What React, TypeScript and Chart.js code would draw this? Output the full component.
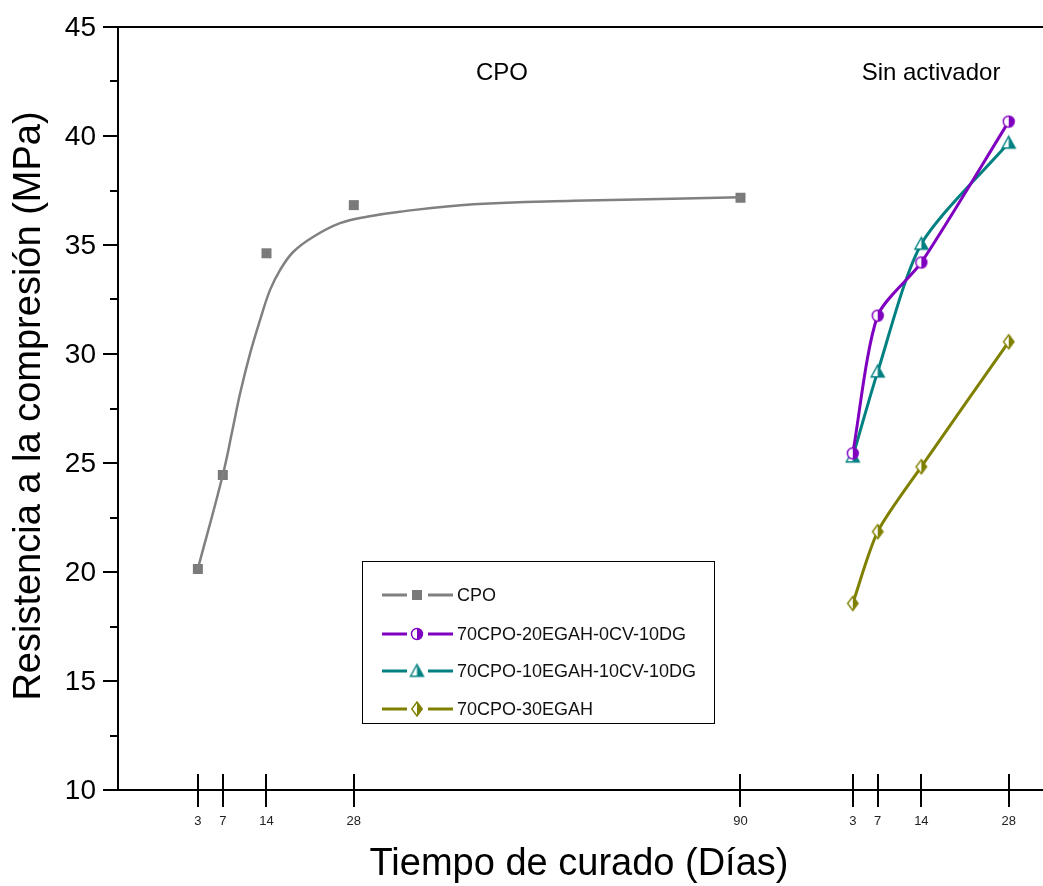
import React, { useEffect, useRef } from "react";
import { Chart, registerables } from "chart.js";

Chart.register(...registerables);

// ---- data ----
const cpoDays = [3, 7, 14, 28, 90];
const cpoStrength = [20.14, 24.45, 34.62, 36.83, 37.17];

// fitted curve for CPO
const cpoFitDays = [3, 7, 8.55, 9.78, 11.38, 12.98, 14.58, 16.18, 18.32, 21.53, 25.8, 30.1, 35.4, 47.2, 63.2, 79.2, 90];
const cpoFitStrength = [20.14, 24.45, 26.51, 28.2, 30.03, 31.56, 32.94, 33.85, 34.69, 35.38, 36.0, 36.3, 36.53, 36.87, 37.03, 37.12, 37.19];

const actDays = [3, 7, 14, 28];
const groupOffset = 105; // second block of the axis ("Sin activador")
const s20EGAH = [25.44, 31.76, 34.2, 40.66];
const s10EGAH = [25.29, 29.19, 35.05, 39.69];
const s30EGAH = [18.56, 21.85, 24.83, 30.56];

const seriesNames = ["CPO", "70CPO-20EGAH-0CV-10DG", "70CPO-10EGAH-10CV-10DG", "70CPO-30EGAH"];
const yTicks = [10, 15, 20, 25, 30, 35, 40, 45];
const yMinorTicks = [12.5, 17.5, 22.5, 27.5, 32.5, 37.5, 42.5];
const xTickValues = [...cpoDays, ...actDays.map((d) => d + groupOffset)];
const xTickLabels = [...cpoDays, ...actDays].map(String);

const GRAY = "#808080";
const PURPLE = "#8000C0";
const TEAL = "#008080";
const OLIVE = "#808000";
const FONT = "Arial, 'Liberation Sans', sans-serif";

type Shape = "square" | "circle" | "triangle" | "diamond";

function makeMarker(shape: Shape, color: string, size: number): HTMLCanvasElement {
  const c = document.createElement("canvas");
  const pad = 2;
  c.width = size + pad * 2;
  c.height = size + pad * 2;
  const ctx = c.getContext("2d")!;
  const cx = c.width / 2;
  const cy = c.height / 2;
  const r = size / 2;
  const path = () => {
    ctx.beginPath();
    if (shape === "square") {
      ctx.rect(cx - r, cy - r, size, size);
    } else if (shape === "circle") {
      ctx.arc(cx, cy, r - 0.5, 0, Math.PI * 2);
    } else if (shape === "triangle") {
      ctx.moveTo(cx, cy - r);
      ctx.lineTo(cx + r, cy + r * 0.8);
      ctx.lineTo(cx - r, cy + r * 0.8);
      ctx.closePath();
    } else {
      ctx.moveTo(cx, cy - r);
      ctx.lineTo(cx + r * 0.75, cy);
      ctx.lineTo(cx, cy + r);
      ctx.lineTo(cx - r * 0.75, cy);
      ctx.closePath();
    }
  };
  if (shape === "square") {
    path();
    ctx.fillStyle = color;
    ctx.fill();
    return c;
  }
  path();
  ctx.fillStyle = "#ffffff";
  ctx.fill();
  ctx.save();
  ctx.beginPath();
  ctx.rect(cx, 0, c.width, c.height);
  ctx.clip();
  path();
  ctx.fillStyle = color;
  ctx.fill();
  ctx.restore();
  path();
  ctx.lineWidth = 1.4;
  ctx.strokeStyle = color;
  ctx.stroke();
  return c;
}

export default function App() {
  const ref = useRef<HTMLCanvasElement | null>(null);

  useEffect(() => {
    if (!ref.current) return;
    const mSquare = makeMarker("square", "#7a7a7a", 10);
    const mCircle = makeMarker("circle", PURPLE, 12);
    const mTri = makeMarker("triangle", TEAL, 13);
    const mDia = makeMarker("diamond", OLIVE, 14);
    const markers = [mSquare, mCircle, mTri, mDia];
    const colors = [GRAY, PURPLE, TEAL, OLIVE];

    const decor = {
      id: "decor",
      afterDraw(chart: any) {
        const ctx = chart.ctx;
        const { left, right, top, bottom } = chart.chartArea;
        const xs = chart.scales.x;
        const ys = chart.scales.y;
        ctx.save();
        ctx.strokeStyle = "#000";
        ctx.lineWidth = 2;
        // axis lines and frame top
        ctx.beginPath();
        ctx.moveTo(left, top);
        ctx.lineTo(left, bottom);
        ctx.moveTo(left - 15, bottom);
        ctx.lineTo(right, bottom);
        ctx.moveTo(left - 15, top);
        ctx.lineTo(right, top);
        // y ticks
        yTicks.forEach((v) => {
          const y = Math.round(ys.getPixelForValue(v));
          ctx.moveTo(left - 15, y);
          ctx.lineTo(left, y);
        });
        yMinorTicks.forEach((v) => {
          const y = Math.round(ys.getPixelForValue(v));
          ctx.moveTo(left - 8, y);
          ctx.lineTo(left, y);
        });
        // x ticks crossing the axis
        xTickValues.forEach((v) => {
          const x = Math.round(xs.getPixelForValue(v));
          ctx.moveTo(x, bottom - 16);
          ctx.lineTo(x, bottom + 17);
        });
        ctx.stroke();

        // tick labels
        ctx.fillStyle = "#000";
        ctx.textAlign = "right";
        ctx.textBaseline = "middle";
        ctx.font = `28px ${FONT}`;
        yTicks.forEach((v) => {
          ctx.fillText(String(v), left - 22, ys.getPixelForValue(v) + 1);
        });
        ctx.textAlign = "center";
        ctx.fillStyle = "#222";
        ctx.font = `13px ${FONT}`;
        xTickValues.forEach((v, i) => {
          ctx.fillText(xTickLabels[i], xs.getPixelForValue(v), bottom + 31);
        });

        // titles
        ctx.fillStyle = "#000";
        ctx.font = `38px ${FONT}`;
        ctx.fillText("Tiempo de curado (Días)", 579, 865);
        ctx.save();
        ctx.translate(30, 406);
        ctx.rotate(-Math.PI / 2);
        ctx.fillText("Resistencia a la compresión (MPa)", 0, 0);
        ctx.restore();
        ctx.font = `24px ${FONT}`;
        ctx.fillText("CPO", 502, 73);
        ctx.fillText("Sin activador", 931, 73);

        // legend
        const bx = 362.5, by = 561.5, bw = 352, bh = 162;
        ctx.lineWidth = 1;
        ctx.strokeStyle = "#000";
        ctx.strokeRect(bx, by, bw, bh);
        const rows = [595, 634, 671, 709];
        ctx.textAlign = "left";
        ctx.font = `18px ${FONT}`;
        rows.forEach((ry, i) => {
          ctx.strokeStyle = colors[i];
          ctx.lineWidth = 3;
          ctx.beginPath();
          ctx.moveTo(382, ry);
          ctx.lineTo(407, ry);
          ctx.moveTo(428, ry);
          ctx.lineTo(453, ry);
          ctx.stroke();
          const m = markers[i];
          ctx.drawImage(m, 417 - m.width / 2, ry - m.height / 2);
          ctx.fillStyle = "#111";
          ctx.fillText(seriesNames[i], 457, ry + 1);
        });
        ctx.restore();
      },
    };

    const chart = new Chart(ref.current, {
      type: "line",
      data: {
        datasets: [
          {
            label: "CPO fit",
            data: cpoFitDays.map((d, i) => ({ x: d, y: cpoFitStrength[i] })),
            borderColor: GRAY,
            borderWidth: 2.5,
            pointRadius: 0,
            tension: 0.4,
            fill: false,
          },
          {
            label: seriesNames[0],
            data: cpoDays.map((d, i) => ({ x: d, y: cpoStrength[i] })),
            showLine: false,
            pointStyle: mSquare as any,
            pointRadius: 6,
          },
          {
            label: seriesNames[1],
            data: actDays.map((d, i) => ({ x: d + groupOffset, y: s20EGAH[i] })),
            borderColor: PURPLE,
            borderWidth: 3,
            pointStyle: mCircle as any,
            pointRadius: 6,
            tension: 0.25,
          },
          {
            label: seriesNames[2],
            data: actDays.map((d, i) => ({ x: d + groupOffset, y: s10EGAH[i] })),
            borderColor: TEAL,
            borderWidth: 3,
            pointStyle: mTri as any,
            pointRadius: 6,
            tension: 0.25,
          },
          {
            label: seriesNames[3],
            data: actDays.map((d, i) => ({ x: d + groupOffset, y: s30EGAH[i] })),
            borderColor: OLIVE,
            borderWidth: 3,
            pointStyle: mDia as any,
            pointRadius: 6,
            tension: 0.25,
          },
        ],
      },
      options: {
        animation: false,
        responsive: false,
        devicePixelRatio: 1,
        layout: { autoPadding: false, padding: { top: 27, right: 0, left: 0, bottom: 0 } },
        plugins: { legend: { display: false }, tooltip: { enabled: false } },
        elements: { line: { borderCapStyle: "round" } },
        scales: {
          x: {
            type: "linear",
            min: -9.8,
            max: 138.5,
            grid: { display: false, drawTicks: false },
            border: { display: false },
            afterFit: (scale: any) => {
              scale.height = 96;
            },
            ticks: { display: false },
          },
          y: {
            min: 10,
            max: 45,
            grid: { display: false, drawTicks: false },
            border: { display: false },
            afterFit: (scale: any) => {
              scale.width = 118;
            },
            ticks: { display: false },
          },
        },
      },
      plugins: [decor],
    } as any);
    return () => chart.destroy();
  }, []);

  return (
    <div style={{ position: "absolute", left: 0, top: 0, width: 1043, height: 886, background: "#fff" }}>
      <canvas ref={ref} width={1043} height={886} style={{ display: "block" }} />
    </div>
  );
}
